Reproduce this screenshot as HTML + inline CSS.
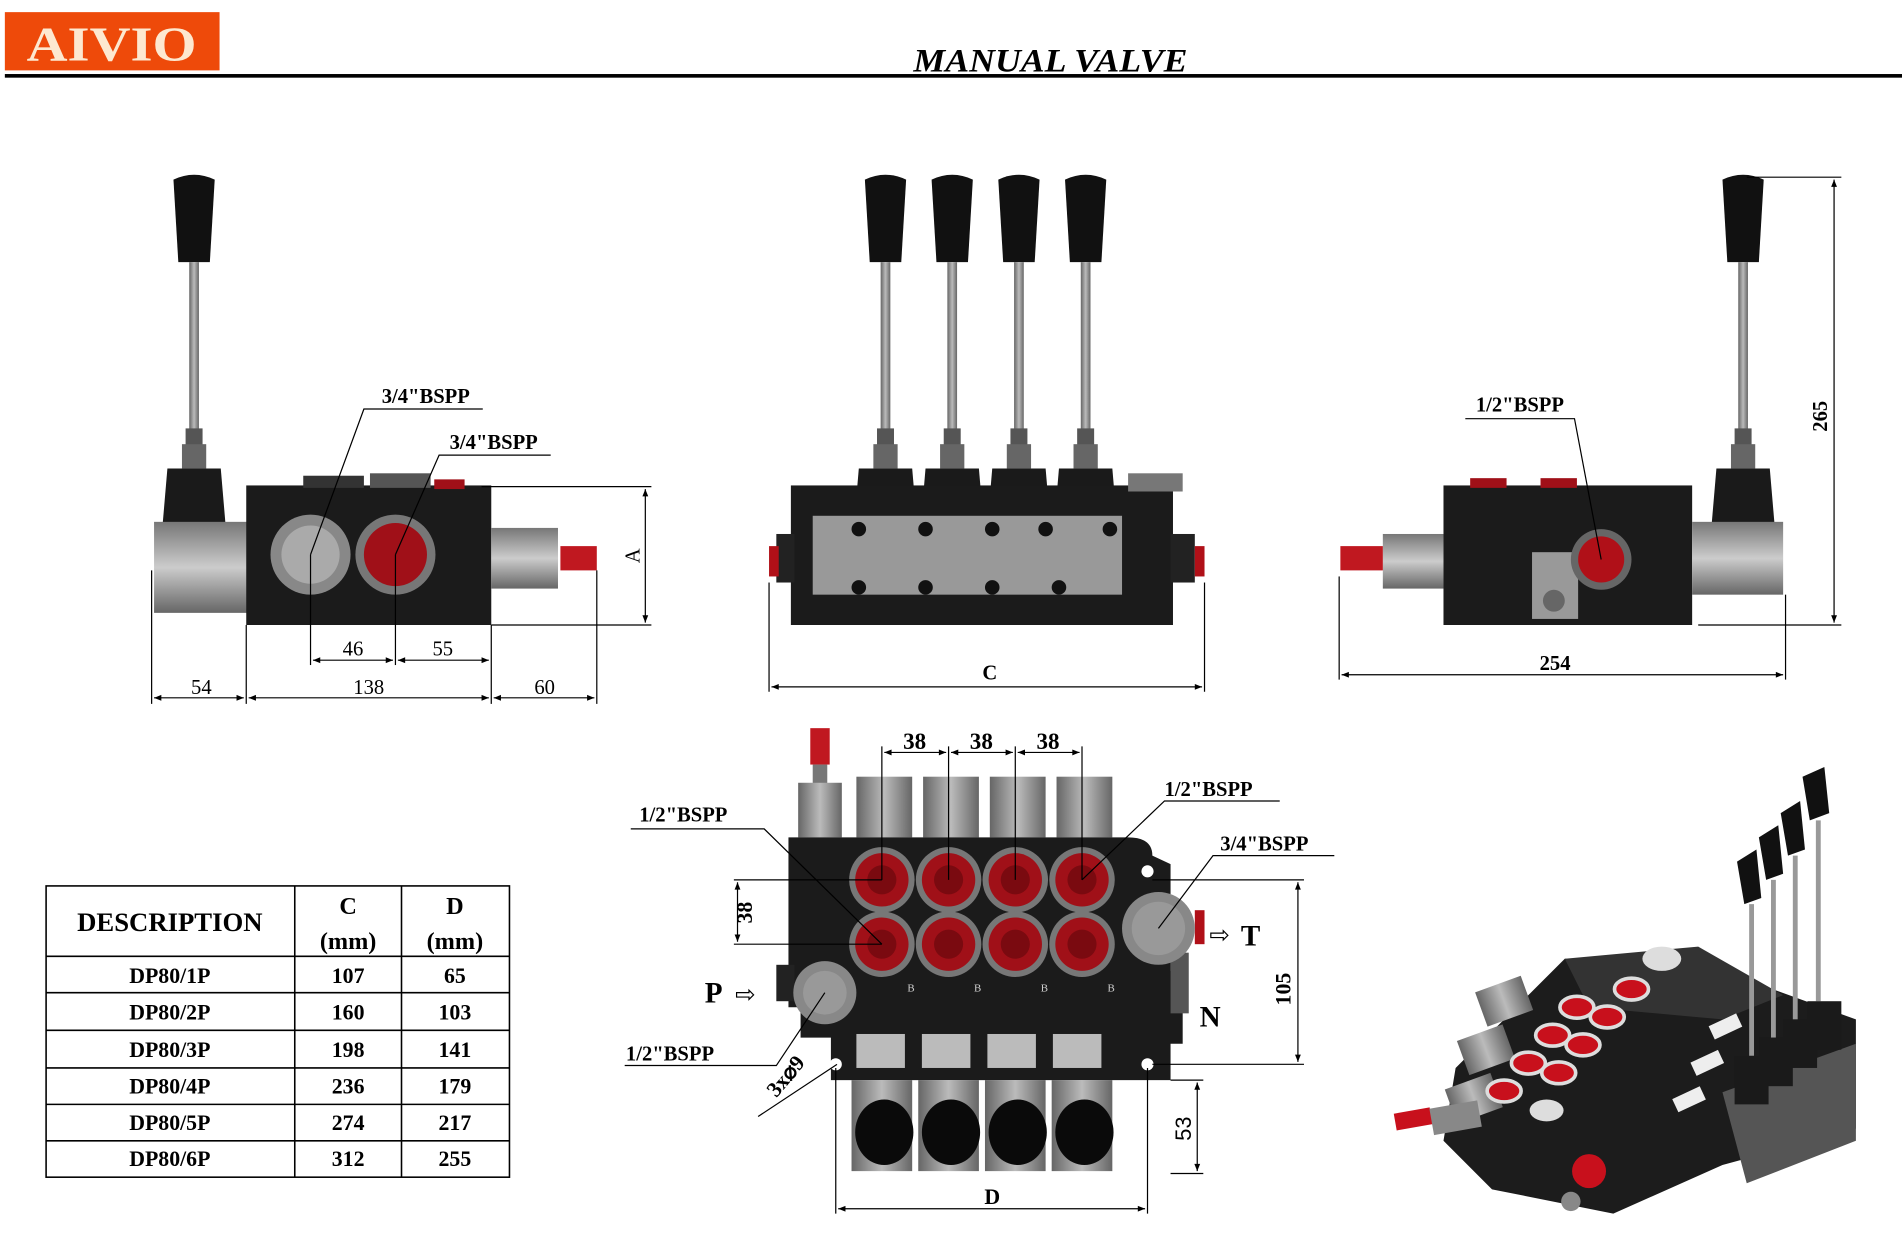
<!DOCTYPE html>
<html><head><meta charset="utf-8"><style>
html,body{margin:0;padding:0;background:#fff}
svg{display:block}
text{font-family:"Liberation Serif",serif}
.b{font-weight:bold}
.s{font-family:"Liberation Sans",sans-serif}
</style></head><body>
<svg width="1902" height="1250" viewBox="0 0 1568 1030" preserveAspectRatio="none" xmlns="http://www.w3.org/2000/svg">
<defs>
<marker id="a" viewBox="0 0 10 10" refX="10" refY="5" markerWidth="8" markerHeight="6" orient="auto-start-reverse"><path d="M0,1 L10,5 L0,9 z" fill="#000"/></marker>
<linearGradient id="g" x1="0" y1="0" x2="0" y2="1"><stop offset="0" stop-color="#777"/><stop offset=".5" stop-color="#ccc"/><stop offset="1" stop-color="#666"/></linearGradient>
<linearGradient id="gh" x1="0" y1="0" x2="1" y2="0"><stop offset="0" stop-color="#666"/><stop offset=".5" stop-color="#bbb"/><stop offset="1" stop-color="#666"/></linearGradient>
<g id="lever"><path d="M-17,0 Q0,-8 17,0 L13,68 L-13,68 Z" fill="#111"/><rect x="-4" y="68" width="8" height="140" fill="url(#gh)"/><rect x="-7" y="205" width="14" height="14" fill="#555"/><rect x="-10" y="218" width="20" height="20" fill="#666"/><path d="M-22,238 L22,238 L26,285 L-26,285 Z" fill="#1a1a1a"/></g>
<g id="rp"><circle r="27" fill="#777"/><circle r="22" fill="#a01018"/><circle r="12" fill="#7a0a10"/></g>
</defs>
<!-- header -->
<rect x="4" y="10" width="177" height="48" fill="#ee4a0a"/>
<text x="92" y="50" text-anchor="middle" font-size="40" fill="#fde8d0" class="b" textLength="140" lengthAdjust="spacingAndGlyphs">AIVIO</text>
<text x="866" y="59" text-anchor="middle" font-size="27" font-style="italic" font-weight="bold" textLength="226" lengthAdjust="spacingAndGlyphs">MANUAL VALVE</text>
<rect x="4" y="61" width="1564" height="3" fill="#000"/>

<!-- LEFT VIEW -->
<use href="#lever" x="160" y="148"/>
<rect x="127" y="430" width="80" height="75" fill="url(#g)"/>
<rect x="203" y="400" width="202" height="115" fill="#1b1b1b"/>
<rect x="250" y="392" width="50" height="10" fill="#333"/><rect x="305" y="390" width="50" height="12" fill="#555"/><rect x="358" y="395" width="25" height="8" fill="#a01018"/>
<circle cx="256" cy="457" r="33" fill="#888"/><circle cx="256" cy="457" r="24" fill="#aaa"/>
<circle cx="326" cy="457" r="33" fill="#777"/><circle cx="326" cy="457" r="26" fill="#a01018"/>
<rect x="405" y="435" width="55" height="50" fill="url(#g)"/><rect x="462" y="450" width="30" height="20" fill="#c01820"/>
<g stroke="#000" stroke-width="1" fill="none">
<line x1="397" y1="401" x2="537" y2="401"/><line x1="405" y1="515" x2="537" y2="515"/><line x1="532" y1="403" x2="532" y2="513" marker-start="url(#a)" marker-end="url(#a)"/>
<line x1="125" y1="470" x2="125" y2="580"/><line x1="203" y1="515" x2="203" y2="580"/><line x1="405" y1="515" x2="405" y2="580"/><line x1="492" y1="470" x2="492" y2="580"/>
<line x1="127" y1="575" x2="201" y2="575" marker-start="url(#a)" marker-end="url(#a)"/><line x1="205" y1="575" x2="403" y2="575" marker-start="url(#a)" marker-end="url(#a)"/><line x1="407" y1="575" x2="490" y2="575" marker-start="url(#a)" marker-end="url(#a)"/>
<line x1="256" y1="457" x2="256" y2="548"/><line x1="326" y1="457" x2="326" y2="548"/>
<line x1="258" y1="544" x2="324" y2="544" marker-start="url(#a)" marker-end="url(#a)"/><line x1="328" y1="544" x2="403" y2="544" marker-start="url(#a)" marker-end="url(#a)"/>
<polyline points="256,457 300,337 398,337"/><polyline points="326,457 362,375 454,375"/>
</g>
<g class="s" font-size="17" text-anchor="middle"><text x="166" y="572">54</text><text x="304" y="572">138</text><text x="449" y="572">60</text><text x="291" y="540">46</text><text x="365" y="540">55</text><text x="527" y="458" transform="rotate(-90 527 458)">A</text></g>
<text x="351" y="332" font-size="17" class="b" text-anchor="middle">3/4"BSPP</text>
<text x="407" y="370" font-size="17" class="b" text-anchor="middle">3/4"BSPP</text>

<!-- MIDDLE VIEW -->
<use href="#lever" x="730" y="148"/><use href="#lever" x="785" y="148"/><use href="#lever" x="840" y="148"/><use href="#lever" x="895" y="148"/>
<rect x="652" y="400" width="315" height="115" fill="#1b1b1b"/><rect x="640" y="440" width="15" height="40" fill="#222"/><rect x="965" y="440" width="20" height="40" fill="#222"/>
<rect x="634" y="450" width="8" height="25" fill="#b01018"/><rect x="985" y="450" width="8" height="25" fill="#b01018"/>
<rect x="670" y="425" width="255" height="65" fill="#999"/><rect x="930" y="390" width="45" height="15" fill="#777"/>
<g fill="#111"><circle cx="708" cy="436" r="6"/><circle cx="763" cy="436" r="6"/><circle cx="818" cy="436" r="6"/><circle cx="862" cy="436" r="6"/><circle cx="915" cy="436" r="6"/><circle cx="708" cy="484" r="6"/><circle cx="763" cy="484" r="6"/><circle cx="818" cy="484" r="6"/><circle cx="873" cy="484" r="6"/></g>
<g stroke="#000" fill="none"><line x1="634" y1="480" x2="634" y2="570"/><line x1="993" y1="480" x2="993" y2="570"/><line x1="636" y1="566" x2="991" y2="566" marker-start="url(#a)" marker-end="url(#a)"/></g>
<text x="816" y="560" font-size="17" class="b" text-anchor="middle">C</text>

<!-- RIGHT VIEW -->
<use href="#lever" x="1437" y="148"/>
<rect x="1190" y="400" width="205" height="115" fill="#1b1b1b"/><rect x="1212" y="394" width="30" height="8" fill="#a01018"/><rect x="1270" y="394" width="30" height="8" fill="#a01018"/>
<rect x="1395" y="430" width="75" height="60" fill="url(#g)"/>
<rect x="1140" y="440" width="50" height="45" fill="url(#g)"/><rect x="1105" y="450" width="35" height="20" fill="#c01820"/>
<rect x="1263" y="455" width="38" height="55" fill="#999"/><circle cx="1281" cy="495" r="9" fill="#666"/>
<circle cx="1320" cy="461" r="25" fill="#666"/><circle cx="1320" cy="461" r="19" fill="#b01018"/>
<g stroke="#000" fill="none"><polyline points="1320,461 1298,345 1208,345"/>
<line x1="1440" y1="146" x2="1518" y2="146"/><line x1="1400" y1="515" x2="1518" y2="515"/><line x1="1512" y1="148" x2="1512" y2="513" marker-start="url(#a)" marker-end="url(#a)"/>
<line x1="1104" y1="475" x2="1104" y2="560"/><line x1="1472" y1="490" x2="1472" y2="560"/><line x1="1106" y1="556" x2="1470" y2="556" marker-start="url(#a)" marker-end="url(#a)"/></g>
<text x="1253" y="339" font-size="17" class="b" text-anchor="middle">1/2"BSPP</text>
<text x="1282" y="552" font-size="17" class="b" text-anchor="middle">254</text>
<text x="1506" y="343" font-size="17" class="b" text-anchor="middle" transform="rotate(-90 1506 343)">265</text>

<!-- BOTTOM VIEW -->
<rect x="668" y="600" width="16" height="30" fill="#c01820"/><rect x="670" y="630" width="12" height="20" fill="#777"/><rect x="658" y="645" width="36" height="45" fill="url(#gh)"/>
<g fill="url(#gh)"><rect x="706" y="640" width="46" height="50"/><rect x="761" y="640" width="46" height="50"/><rect x="816" y="640" width="46" height="50"/><rect x="871" y="640" width="46" height="50"/></g>
<path d="M650,690 L930,690 Q950,690 950,705 L965,712 L965,800 L975,800 L975,860 L965,860 L965,890 L685,890 L685,855 L660,855 L660,830 L650,830 Z" fill="#1b1b1b"/>
<rect x="985" y="750" width="8" height="28" fill="#b01018"/><rect x="965" y="785" width="15" height="50" fill="#555"/><rect x="640" y="795" width="15" height="30" fill="#222"/>
<use href="#rp" x="727" y="725"/><use href="#rp" x="782" y="725"/><use href="#rp" x="837" y="725"/><use href="#rp" x="892" y="725"/>
<use href="#rp" x="727" y="778"/><use href="#rp" x="782" y="778"/><use href="#rp" x="837" y="778"/><use href="#rp" x="892" y="778"/>
<circle cx="955" cy="765" r="30" fill="#888"/><circle cx="955" cy="765" r="22" fill="#999"/>
<circle cx="680" cy="818" r="26" fill="#888"/><circle cx="680" cy="818" r="18" fill="#999"/>
<g fill="#bbb"><rect x="706" y="852" width="40" height="28"/><rect x="760" y="852" width="40" height="28"/><rect x="814" y="852" width="40" height="28"/><rect x="868" y="852" width="40" height="28"/></g>
<g fill="#fff"><circle cx="689" cy="877" r="5"/><circle cx="946" cy="877" r="5"/><circle cx="946" cy="718" r="5"/></g>
<g fill="url(#gh)"><rect x="702" y="890" width="50" height="75"/><rect x="757" y="890" width="50" height="75"/><rect x="812" y="890" width="50" height="75"/><rect x="867" y="890" width="50" height="75"/></g>
<g fill="#0a0a0a"><ellipse cx="729" cy="933" rx="24" ry="27"/><ellipse cx="784" cy="933" rx="24" ry="27"/><ellipse cx="839" cy="933" rx="24" ry="27"/><ellipse cx="894" cy="933" rx="24" ry="27"/></g>
<g stroke="#000" fill="none">
<line x1="727" y1="615" x2="727" y2="725"/><line x1="782" y1="615" x2="782" y2="725"/><line x1="837" y1="615" x2="837" y2="725"/><line x1="892" y1="615" x2="892" y2="725"/>
<line x1="729" y1="620" x2="780" y2="620" marker-start="url(#a)" marker-end="url(#a)"/><line x1="784" y1="620" x2="835" y2="620" marker-start="url(#a)" marker-end="url(#a)"/><line x1="839" y1="620" x2="890" y2="620" marker-start="url(#a)" marker-end="url(#a)"/>
<line x1="605" y1="725" x2="727" y2="725"/><line x1="605" y1="778" x2="727" y2="778"/><line x1="608" y1="727" x2="608" y2="776" marker-start="url(#a)" marker-end="url(#a)"/>
<polyline points="520,683 630,683 727,778"/><polyline points="1055,660 960,660 892,725"/><polyline points="1100,705 1000,705 955,765"/><polyline points="515,878 640,878 680,818"/><line x1="625" y1="920" x2="690" y2="877"/>
<line x1="950" y1="725" x2="1075" y2="725"/><line x1="950" y1="877" x2="1075" y2="877"/><line x1="1070" y1="727" x2="1070" y2="875" marker-start="url(#a)" marker-end="url(#a)"/>
<line x1="965" y1="890" x2="992" y2="890"/><line x1="965" y1="967" x2="992" y2="967"/><line x1="987" y1="892" x2="987" y2="965" marker-start="url(#a)" marker-end="url(#a)"/>
<line x1="689" y1="880" x2="689" y2="1000"/><line x1="946" y1="880" x2="946" y2="1000"/><line x1="691" y1="996" x2="944" y2="996" marker-start="url(#a)" marker-end="url(#a)"/></g>
<g class="b" font-size="19" text-anchor="middle"><text x="754" y="617">38</text><text x="809" y="617">38</text><text x="864" y="617">38</text></g>
<g class="b" font-size="17"><text x="527" y="677">1/2"BSPP</text><text x="960" y="656">1/2"BSPP</text><text x="1006" y="701">3/4"BSPP</text><text x="516" y="874">1/2"BSPP</text></g>
<text x="620" y="752" font-size="18" class="b" text-anchor="middle" transform="rotate(-90 620 752)">38</text>
<text x="1064" y="815" font-size="18" class="b" text-anchor="middle" transform="rotate(-90 1064 815)">105</text>
<text x="982" y="930" font-size="18" class="s" text-anchor="middle" transform="rotate(-90 982 930)">53</text>
<text x="640" y="905" font-size="18" class="b" transform="rotate(-50 640 905)">3x⌀9</text>
<text x="818" y="992" font-size="18" class="b" text-anchor="middle">D</text>
<text x="581" y="826" font-size="24" class="b">P</text><text x="606" y="826" font-size="20">⇨</text>
<text x="997" y="777" font-size="20">⇨</text><text x="1023" y="779" font-size="24" class="b">T</text>
<text x="989" y="846" font-size="24" class="b">N</text>
<g class="s" font-size="9" fill="#ccc"><text x="748" y="817">B</text><text x="803" y="817">B</text><text x="858" y="817">B</text><text x="913" y="817">B</text></g>

<!-- 3D image -->
<g>
<path d="M1200,880 L1290,790 L1420,800 L1530,840 L1530,930 L1420,960 L1330,1000 L1230,980 L1190,940 Z" fill="#1c1c1c"/>
<path d="M1290,790 L1400,780 L1470,820 L1420,840 L1310,830 Z" fill="#333"/>
<g fill="url(#gh)"><rect x="1220" y="810" width="40" height="30" transform="rotate(-20 1240 825)"/><rect x="1205" y="850" width="40" height="30" transform="rotate(-20 1225 865)"/><rect x="1195" y="890" width="40" height="30" transform="rotate(-20 1215 905)"/></g>
<g fill="#c8101c" stroke="#ddd" stroke-width="3"><ellipse cx="1300" cy="830" rx="14" ry="9"/><ellipse cx="1345" cy="815" rx="14" ry="9"/><ellipse cx="1280" cy="853" rx="14" ry="9"/><ellipse cx="1325" cy="838" rx="14" ry="9"/><ellipse cx="1260" cy="876" rx="14" ry="9"/><ellipse cx="1305" cy="861" rx="14" ry="9"/><ellipse cx="1240" cy="899" rx="14" ry="9"/><ellipse cx="1285" cy="884" rx="14" ry="9"/></g>
<ellipse cx="1370" cy="790" rx="16" ry="10" fill="#ddd"/><ellipse cx="1275" cy="915" rx="14" ry="9" fill="#ddd"/>
<rect x="1150" y="915" width="30" height="14" fill="#c8101c" transform="rotate(-10 1165 922)"/><rect x="1180" y="910" width="40" height="22" fill="#888" transform="rotate(-10 1200 921)"/>
<circle cx="1310" cy="965" r="14" fill="#c8101c"/><circle cx="1295" cy="990" r="8" fill="#888"/>
<path d="M1420,900 L1530,860 L1530,940 L1440,975 Z" fill="#555"/>
<g fill="#111"><path d="M1432,710 L1448,700 L1452,740 L1438,745 Z"/><path d="M1450,690 L1466,680 L1470,720 L1456,725 Z"/><path d="M1468,670 L1484,660 L1488,700 L1474,705 Z"/><path d="M1486,640 L1504,632 L1508,670 L1492,676 Z"/></g>
<g stroke="#999" stroke-width="4"><line x1="1444" y1="745" x2="1444" y2="870"/><line x1="1462" y1="725" x2="1462" y2="855"/><line x1="1480" y1="705" x2="1480" y2="840"/><line x1="1499" y1="676" x2="1499" y2="825"/></g>
<g fill="#1a1a1a"><rect x="1430" y="870" width="28" height="40"/><rect x="1450" y="855" width="28" height="40"/><rect x="1470" y="840" width="28" height="40"/><rect x="1490" y="825" width="28" height="40"/></g>
<g fill="#eee"><rect x="1380" y="900" width="25" height="12" transform="rotate(-25 1392 906)"/><rect x="1395" y="870" width="25" height="12" transform="rotate(-25 1407 876)"/><rect x="1410" y="840" width="25" height="12" transform="rotate(-25 1422 846)"/></g>
</g>

<!-- TABLE -->
<g stroke="#000" stroke-width="1.3" fill="none">
<rect x="38" y="730" width="382" height="240"/>
<line x1="243" y1="730" x2="243" y2="970"/><line x1="331" y1="730" x2="331" y2="970"/>
<line x1="38" y1="788" x2="420" y2="788"/><line x1="38" y1="818" x2="420" y2="818"/><line x1="38" y1="849" x2="420" y2="849"/><line x1="38" y1="880" x2="420" y2="880"/><line x1="38" y1="910" x2="420" y2="910"/><line x1="38" y1="940" x2="420" y2="940"/>
</g>
<g class="b" font-size="20" text-anchor="middle">
<text x="140" y="767" font-size="22">DESCRIPTION</text><text x="287" y="753">C</text><text x="287" y="782">(mm)</text><text x="375" y="753">D</text><text x="375" y="782">(mm)</text>
<g font-size="18"><text x="140" y="810">DP80/1P</text><text x="287" y="810">107</text><text x="375" y="810">65</text>
<text x="140" y="840">DP80/2P</text><text x="287" y="840">160</text><text x="375" y="840">103</text>
<text x="140" y="871">DP80/3P</text><text x="287" y="871">198</text><text x="375" y="871">141</text>
<text x="140" y="901">DP80/4P</text><text x="287" y="901">236</text><text x="375" y="901">179</text>
<text x="140" y="931">DP80/5P</text><text x="287" y="931">274</text><text x="375" y="931">217</text>
<text x="140" y="961">DP80/6P</text><text x="287" y="961">312</text><text x="375" y="961">255</text></g>
</g>
</svg>
</body></html>
